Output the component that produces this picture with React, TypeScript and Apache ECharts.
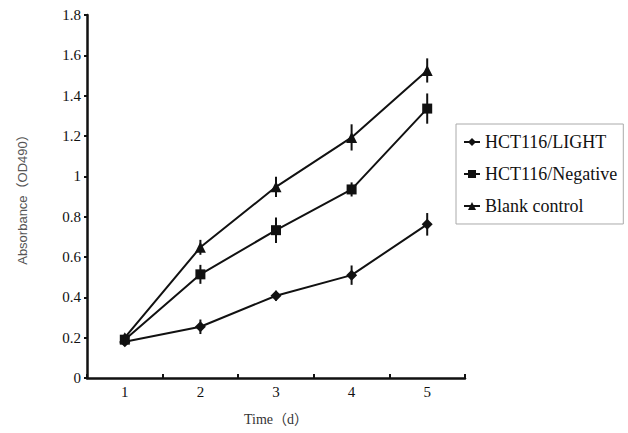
import React, { useEffect, useRef } from "react";
import * as echarts from "echarts";

const days = ["1", "2", "3", "4", "5"];
const lightMean = [0.18, 0.254, 0.408, 0.51, 0.762];
const lightErr = [0.02, 0.036, 0.025, 0.048, 0.056];
const negMean = [0.19, 0.514, 0.733, 0.935, 1.336];
const negErr = [0.02, 0.047, 0.063, 0.035, 0.075];
const blankMean = [0.2, 0.648, 0.948, 1.193, 1.525];
const blankErr = [0.02, 0.037, 0.05, 0.065, 0.06];
const seriesNames = ["HCT116/LIGHT", "HCT116/Negative", "Blank control"];
const symbols = ["diamond", "rect", "triangle"];
const symbolSizes = [11, 10, 11];

export default function App() {
  const ref = useRef<HTMLDivElement>(null);
  useEffect(() => {
    if (!ref.current) return;
    const chart = echarts.init(ref.current, undefined, { renderer: "svg" });
    const means = [lightMean, negMean, blankMean];
    const errs = [lightErr, negErr, blankErr];
    const serif = "'Liberation Serif', 'Noto Sans CJK SC', serif";

    const lineSeries = means.map((m, i) => ({
      name: seriesNames[i],
      type: "line",
      data: m,
      symbol: symbols[i],
      symbolSize: symbolSizes[i],
      showAllSymbol: true,
      lineStyle: { color: "#111", width: 2 },
      itemStyle: { color: "#111" },
      z: 3,
    }));

    const errSeries = means.map((m, i) => ({
      type: "custom",
      name: seriesNames[i] + " err",
      data: m.map((v, j) => [j, v - errs[i][j], v + errs[i][j]]),
      renderItem: (params: any, api: any) => {
        const lo = api.coord([api.value(0), api.value(1)]);
        const hi = api.coord([api.value(0), api.value(2)]);
        return {
          type: "line",
          shape: { x1: lo[0], y1: lo[1], x2: hi[0], y2: hi[1] },
          style: { stroke: "#111", lineWidth: 2 },
        };
      },
      z: 4,
    }));

    chart.setOption({
      animation: false,
      backgroundColor: "#fff",
      grid: { left: 87, top: 15, right: 163, bottom: 55, containLabel: false },
      legend: {
        data: seriesNames,
        orient: "vertical",
        left: 456,
        top: 124,
        itemWidth: 16,
        itemHeight: 10,
        itemGap: 14,
        padding: [9, 6, 9, 7],
        borderColor: "#aaa",
        borderWidth: 1,
        textStyle: { fontFamily: serif, fontSize: 18, color: "#111" },
      },
      xAxis: {
        type: "category",
        data: days,
        boundaryGap: true,
        name: "Time（d）",
        nameLocation: "middle",
        nameGap: 34,
        nameTextStyle: { fontFamily: serif, fontSize: 14, color: "#333" },
        axisLine: { lineStyle: { color: "#111", width: 2.5 } },
        axisTick: { show: true, inside: true, length: 4, lineStyle: { color: "#111", width: 2 } },
        axisLabel: { fontFamily: serif, fontSize: 15, color: "#111", margin: 6 },
        splitLine: { show: false },
      },
      yAxis: {
        type: "value",
        min: 0,
        max: 1.8,
        interval: 0.2,
        name: "Absorbance（OD490）",
        nameLocation: "middle",
        nameGap: 58,
        nameRotate: 90,
        nameTextStyle: { fontFamily: "'Liberation Sans', 'Noto Sans CJK SC', sans-serif", fontSize: 13, color: "#555" },
        axisLine: { show: true, lineStyle: { color: "#111", width: 2.5 } },
        axisTick: { show: true, length: 3, lineStyle: { color: "#111", width: 2 } },
        axisLabel: { fontFamily: serif, fontSize: 15, color: "#111", margin: 6 },
        splitLine: { show: false },
      },
      series: [...errSeries, ...lineSeries],
    });
    return () => chart.dispose();
  }, []);
  return <div ref={ref} style={{ width: 628, height: 433, position: "absolute", left: 0, top: 0 }} />;
}
